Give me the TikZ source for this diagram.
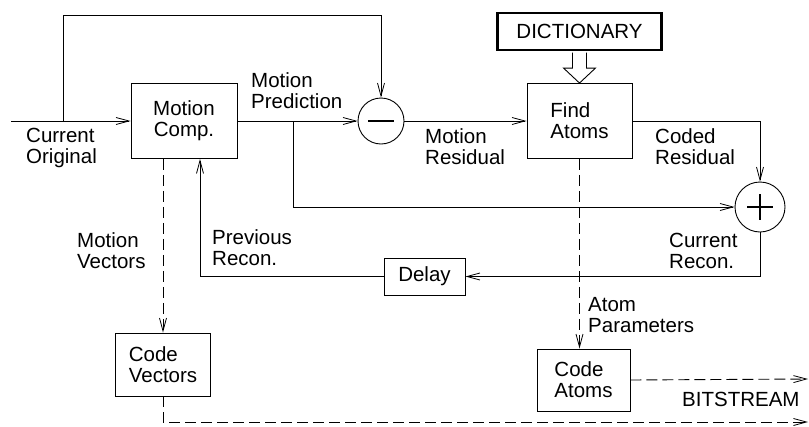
\documentclass[tikz,border=0pt]{standalone}
\usepackage{fontspec}
\setmainfont{Liberation Sans}
\usetikzlibrary{arrows.meta,calc}
\begin{document}
\begin{tikzpicture}[x=1pt,y=-1pt,
  every node/.style={font=\fontsize{20.5}{21}\selectfont},
  wire/.style={line width=0.9pt},
  flow/.style={wire,-{Straight Barb[length=13pt,width=7pt,line width=0.8pt]}},
  dashflow/.style={flow,dash pattern=on 11pt off 5pt},
  block/.style={draw,line width=0.9pt,inner sep=0pt,align=left},
  lbl/.style={inner sep=0pt,anchor=north west,align=left},
  junction/.style={draw,circle,line width=0.9pt,inner sep=0pt}]
\useasboundingbox (0,0) rectangle (809,426);

% processing blocks
\node[block,align=center,minimum width=106pt,minimum height=75pt] (mc) at (184,121) {Motion\\Comp.};
\node[block,minimum width=105pt,minimum height=75pt] (fa) at (579.5,121) {Find\\Atoms};
\node[block,minimum width=95pt,minimum height=63pt] (cv) at (163,364.5) {Code\\Vectors};
\node[block,minimum width=93pt,minimum height=62pt] (ca) at (583.5,380) {Code\\Atoms};
\node[block,align=center,minimum width=81pt,minimum height=37pt] (dl) at (424.5,276.5) {Delay};
\node[block,align=center,line width=2.6pt,minimum width=164pt,minimum height=37pt] (dict) at (579.5,31.5) {DICTIONARY};

% summing junctions
\node[junction,minimum size=46pt] (sub) at (381,121) {};
\draw[line width=2.8pt] ($(sub)+(-13,0)$) -- ($(sub)+(13,0)$);
\node[junction,minimum size=50pt] (add) at (760,207) {};
\draw[line width=2.8pt] ($(add)+(-13,0)$) -- ($(add)+(13,0)$);
\draw[line width=2.8pt] ($(add)+(0,-13)$) -- ($(add)+(0,13)$);

% bend and end points
\coordinate (in) at (11,121);
\coordinate (tap) at (63,121);
\coordinate (loop) at (63,15);
\coordinate (pp) at (293,121);
\coordinate (bs1) at (808,379);
\coordinate (bs2) at (808,422);

% signal paths
\draw[flow] (in) -- (mc.west);
\draw[flow] (tap) -- (loop) -| (sub.north);
\draw[flow] (mc.east) -- (sub.west);
\draw[flow] (pp) |- (add.west);
\draw[flow] (sub.east) -- (fa.west);
\draw[flow] (fa.east) -| (add.north);
\draw[flow] (add.south) |- (dl.east);
\draw[flow] (dl.west) -| ([xshift=16pt]mc.south);
\draw[dashflow] (cv.north |- mc.south) -- (cv.north);
\draw[dashflow] (cv.south) |- (bs2);
\draw[dashflow] (fa.south) -- (fa.south |- ca.north);
\draw[dashflow] (ca.east) -- (bs1);

% hollow arrow from the dictionary
\draw[wire,line join=miter]
  ($(dict.south)+(-7,1.3)$) -- ($(fa.north)+(-7,-15)$) -- ($(fa.north)+(-16,-15)$)
  -- (fa.north) -- ($(fa.north)+(16,-15)$) -- ($(fa.north)+(7,-15)$)
  -- ($(dict.south)+(7,1.3)$);

% signal labels
\node[lbl] (lpred) at (251,72) {Motion\\Prediction};
\node[lbl] (lorig) at (26,128) {Current\\Original};
\node[lbl] (lres) at (425,128) {Motion\\Residual};
\node[lbl] (lcres) at (655,128) {Coded\\Residual};
\node[lbl] (lmv) at (77,232) {Motion\\Vectors};
\node[lbl] (lprev) at (212,229) {Previous\\Recon.};
\node[lbl] (lcur) at (669,233) {Current\\Recon.};
\node[lbl] (lpar) at (588,297) {Atom\\Parameters};
\node[lbl] (lbits) at (682,392) {BITSTREAM};
\end{tikzpicture}
\end{document}
